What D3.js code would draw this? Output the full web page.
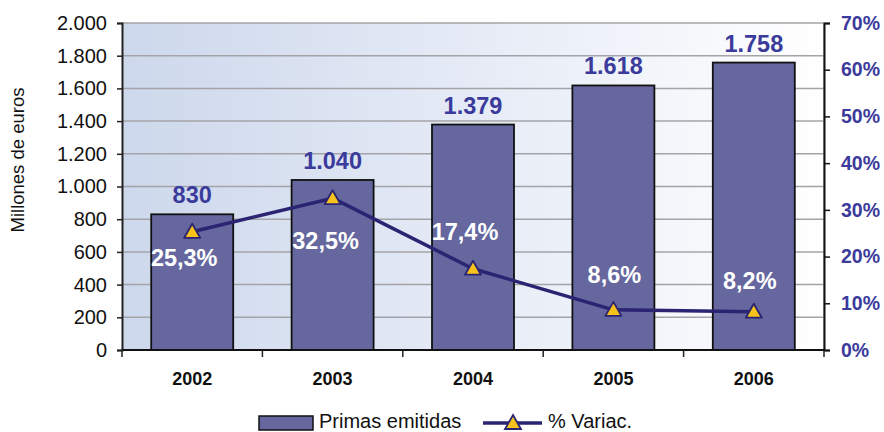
<!DOCTYPE html>
<html>
<head>
<meta charset="utf-8">
<script src="https://cdn.jsdelivr.net/npm/d3@7"></script>
<style>
  html, body { margin: 0; padding: 0; background: #fff; }
  svg { display: block; font-family: "Liberation Sans", Arial, sans-serif; }
</style>
</head>
<body>
<svg id="chart" width="884" height="432"></svg>
<script>
// ---- data ----
const years = ["2002", "2003", "2004", "2005", "2006"];
const primas = [830, 1040, 1379, 1618, 1758];
const variac = [25.3, 32.5, 17.4, 8.6, 8.2];
const primasLabels = ["830", "1.040", "1.379", "1.618", "1.758"];
const variacLabels = ["25,3%", "32,5%", "17,4%", "8,6%", "8,2%"];
const leftTicks = [0, 200, 400, 600, 800, 1000, 1200, 1400, 1600, 1800, 2000];
const rightTicks = [0, 10, 20, 30, 40, 50, 60, 70];
const seriesNames = ["Primas emitidas", "% Variac."];

// ---- layout / style ----
const L = 122, R = 824, T = 23, B = 350;
const pctLabelDy = [34, 51, -29, -27, -23];
const pctLabelDx = [-8, -7, -8, 1, -4];
const barFill = "#65679e";
const labelBlue = "#3b3b9c";
const lineColor = "#2b2472";
const triFill = "#f7c21b";

const svg = d3.select("#chart");

const x = d3.scaleBand().domain(years).range([L, R]).paddingInner(0.416).paddingOuter(0.208);
const yL = d3.scaleLinear().domain([0, 2000]).range([B, T]);
const yR = d3.scaleLinear().domain([0, 70]).range([B, T]);
const fmtThousand = d => d3.format(",")(d).replace(/,/g, ".");

// background gradient
const defs = svg.append("defs");
const grad = defs.append("linearGradient").attr("id", "bg").attr("x1", "0%").attr("x2", "100%").attr("y1", "0").attr("y2", "0");
grad.append("stop").attr("offset", "0%").attr("stop-color", "#cdd8ec");
grad.append("stop").attr("offset", "45%").attr("stop-color", "#e3e9f5");
grad.append("stop").attr("offset", "100%").attr("stop-color", "#ffffff");
svg.append("rect").attr("x", L).attr("y", T).attr("width", R - L).attr("height", B - T).attr("fill", "url(#bg)");

// gridlines
svg.append("g").selectAll("line").data(leftTicks.filter(d => d > 0)).join("line")
  .attr("x1", L).attr("x2", R).attr("y1", d => yL(d)).attr("y2", d => yL(d))
  .attr("stroke", "#a4a4a8").attr("stroke-width", 1.5);
svg.append("line").attr("x1", R).attr("x2", R).attr("y1", T).attr("y2", B).attr("stroke", "#a4a4a8").attr("stroke-width", 1.5);

// bars
svg.append("g").selectAll("rect").data(years).join("rect")
  .attr("x", d => x(d)).attr("width", x.bandwidth())
  .attr("y", (d, i) => yL(primas[i])).attr("height", (d, i) => B - yL(primas[i]))
  .attr("fill", barFill).attr("stroke", "#111").attr("stroke-width", 1.8);

// left axis
const axL = svg.append("g").attr("transform", `translate(${L},0)`)
  .call(d3.axisLeft(yL).tickValues(leftTicks).tickFormat(fmtThousand).tickSize(5).tickPadding(10));
axL.select(".domain").attr("stroke", "#222").attr("stroke-width", 2);
axL.selectAll(".tick line").attr("stroke", "#222").attr("stroke-width", 1.5);
axL.selectAll("text").attr("font-size", 20).attr("fill", "#111").attr("font-family", "Liberation Sans, Arial, sans-serif");

// right axis
const axR = svg.append("g").attr("transform", `translate(${R},0)`)
  .call(d3.axisRight(yR).tickValues(rightTicks).tickFormat(d => d + "%").tickSize(6).tickPadding(11));
axR.select(".domain").attr("stroke", "#111").attr("stroke-width", 2);
axR.selectAll(".tick line").attr("stroke", "#111").attr("stroke-width", 1.5);
axR.selectAll("text").attr("font-size", 19.5).attr("font-weight", "bold").attr("fill", labelBlue).attr("font-family", "Liberation Sans, Arial, sans-serif");

// x axis
const boundaries = d3.range(years.length + 1).map(i => L + i * x.step());
svg.append("line").attr("x1", L).attr("x2", R).attr("y1", B).attr("y2", B).attr("stroke", "#111").attr("stroke-width", 2);
svg.append("g").selectAll("line").data(boundaries).join("line")
  .attr("x1", d => d).attr("x2", d => d).attr("y1", B).attr("y2", B + 7)
  .attr("stroke", "#222").attr("stroke-width", 1.5);
svg.append("g").selectAll("text").data(years).join("text")
  .attr("x", d => x(d) + x.bandwidth() / 2).attr("y", 385)
  .attr("text-anchor", "middle").attr("font-size", 18).attr("font-weight", "bold").attr("fill", "#111")
  .text(d => d);

// y title
svg.append("text").attr("transform", "translate(24,160) rotate(-90)")
  .attr("text-anchor", "middle").attr("font-size", 18.5).attr("fill", "#111").text("Millones de euros");

// bar value labels
svg.append("g").selectAll("text").data(years).join("text")
  .attr("x", d => x(d) + x.bandwidth() / 2).attr("y", (d, i) => yL(primas[i]) - 11)
  .attr("text-anchor", "middle").attr("font-size", 23.5).attr("font-weight", "bold").attr("fill", labelBlue)
  .text((d, i) => primasLabels[i]);

// line
const cx = d => x(d) + x.bandwidth() / 2;
const line = d3.line().x((d, i) => cx(years[i])).y(d => yR(d));
svg.append("path").datum(variac).attr("d", line).attr("fill", "none")
  .attr("stroke", lineColor).attr("stroke-width", 3.5).attr("stroke-linejoin", "round");

// triangle markers
const tri = (px, py) => `M${px},${py - 8} L${px + 8},${py + 6} L${px - 8},${py + 6} Z`;
svg.append("g").selectAll("path").data(variac).join("path")
  .attr("d", (d, i) => tri(cx(years[i]), yR(d)))
  .attr("fill", triFill).attr("stroke", lineColor).attr("stroke-width", 1.8).attr("stroke-linejoin", "round");

// percent labels
svg.append("g").selectAll("text").data(variac).join("text")
  .attr("x", (d, i) => cx(years[i]) + pctLabelDx[i]).attr("y", (d, i) => yR(d) + pctLabelDy[i])
  .attr("text-anchor", "middle").attr("font-size", 23.5).attr("font-weight", "bold").attr("fill", "#ffffff")
  .text((d, i) => variacLabels[i]);

// legend
const lg = svg.append("g");
lg.append("rect").attr("x", 259).attr("y", 416).attr("width", 54).attr("height", 14)
  .attr("fill", barFill).attr("stroke", "#111").attr("stroke-width", 1.5);
lg.append("text").attr("x", 319).attr("y", 428).attr("font-size", 20).attr("fill", "#111").text(seriesNames[0]);
lg.append("line").attr("x1", 483).attr("x2", 542).attr("y1", 423).attr("y2", 423)
  .attr("stroke", lineColor).attr("stroke-width", 3.5);
lg.append("path").attr("d", tri(513, 423)).attr("fill", triFill).attr("stroke", lineColor).attr("stroke-width", 1.8);
lg.append("text").attr("x", 548).attr("y", 428).attr("font-size", 20).attr("fill", "#111").text(seriesNames[1]);
</script>
</body>
</html>
